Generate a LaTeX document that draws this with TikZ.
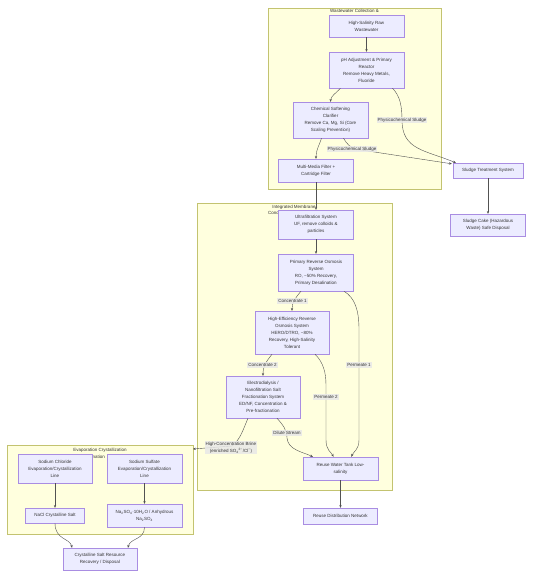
\documentclass[tikz,border=0pt]{standalone}
\usepackage{fontspec}
\setmainfont{Liberation Sans}
\usetikzlibrary{arrows.meta,calc}
\definecolor{clfill}{HTML}{FFFFDE}
\definecolor{cldraw}{HTML}{AAAA33}
\definecolor{nfill}{HTML}{ECECFF}
\definecolor{ndraw}{HTML}{9370DB}
\definecolor{ink}{HTML}{333333}
\definecolor{lblfill}{HTML}{E8E8E8}
\begin{document}
\begin{tikzpicture}[x=1pt,y=-1pt,
  fs/.style={font=\fontsize{4.5}{7}\selectfont, text=ink},
  clusterbox/.style={draw=cldraw!70, fill=clfill, line width=0.4pt},
  cltitle/.style={fs, inner sep=0pt, align=center},
  procbox/.style={fs, draw=ndraw!80, fill=nfill, line width=0.4pt, align=center, inner sep=0pt, minimum width=75pt},
  conn/.style={draw=ink!85, line width=0.4pt, -{Stealth[length=2.8pt,width=2.4pt]}},
  elabel/.style={fs, fill=lblfill, fill opacity=0.85, text opacity=1, inner sep=1pt, align=center}]
\useasboundingbox[fill=white] (0,0) rectangle (533,579);

% clusters
\path[clusterbox] (268,8) rectangle (441,189);
\node[cltitle] (t1) at (354.5,11) {Wastewater Collection \&};
\node[cltitle] (t1b) at (354.5,18) {Pretreatment};
\path[clusterbox] (197,203) rectangle (392,490);
\node[cltitle] (t2) at (294,207) {Integrated Membrane};
\node[cltitle, anchor=west] (t2b) at (268,213.5) {Concentration System};
\path[clusterbox] (7,445) rectangle (193,534);
\node[cltitle] (t3) at (100,450) {Evaporation Crystallization};
\node[cltitle, anchor=east] (t3b) at (105,457) {Coordination};

% nodes
\node[procbox, minimum height=22pt] (raw) at (366.5,26) {High-Salinity Raw\\Wastewater};
\node[procbox, minimum height=36pt] (ph) at (366.5,70) {pH Adjustment \& Primary\\Reactor\\Remove Heavy Metals,\\Fluoride};
\node[procbox, minimum height=36pt] (chem) at (330.5,120) {Chemical Softening\\Clarifier\\Remove Ca, Mg, Si (Core\\Scaling Prevention)};
\node[procbox, minimum height=23pt] (mm) at (316,170.5) {Multi-Media Filter +\\Cartridge Filter};
\node[procbox, minimum height=15pt, minimum width=70pt] (sludge) at (488,170.5) {Sludge Treatment System};
\node[procbox, minimum height=22pt] (cake) at (488,225) {Sludge Cake (Hazardous\\Waste) Safe Disposal};
\node[procbox, minimum height=29pt] (uf) at (316,224.5) {Ultrafiltration System\\UF, remove colloids \&\\particles};
\node[procbox, minimum height=37pt] (ro) at (316,272.5) {Primary Reverse Osmosis\\System\\RO, \textasciitilde50\% Recovery,\\Primary Desalination};
\node[procbox, minimum height=43pt, minimum width=74pt] (hero) at (292,332.5) {High-Efficiency Reverse\\Osmosis System\\HERO/DTRO, \textasciitilde80\%\\Recovery, High-Salinity\\Tolerant};
\node[procbox, minimum height=42pt, minimum width=74pt] (ed) at (263,397) {Electrodialysis /\\Nanofiltration Salt\\Fractionation System\\ED/NF, Concentration \&\\Pre-fractionation};
\node[procbox, minimum height=23pt] (tank) at (340.5,468.5) {Reuse Water Tank Low-\\salinity};
\node[procbox, minimum height=16pt, minimum width=74pt] (dist) at (340.5,516) {Reuse Distribution Network};
\node[procbox, minimum height=29pt, minimum width=74pt] (naclline) at (55,468.5) {Sodium Chloride\\Evaporation/Crystallization\\Line};
\node[procbox, minimum height=29pt] (na2line) at (144.5,468.5) {Sodium Sulfate\\Evaporation/Crystallization\\Line};
\node[procbox, minimum height=15pt, minimum width=59pt] (nacl) at (55,515.5) {NaCl Crystalline Salt};
\node[procbox, minimum height=23pt] (na2) at (144.5,515.5) {Na\textsubscript{2}SO\textsubscript{4}·10H\textsubscript{2}O / Anhydrous\\Na\textsubscript{2}SO\textsubscript{4}};
\node[procbox, minimum height=22pt, minimum width=74pt] (cryst) at (100,559) {Crystalline Salt Resource\\Recovery / Disposal};
\coordinate (brineend) at (193,449);

% connectors
\draw[conn] (raw) -- (ph);
\draw[conn] ($(ph.south)+(-26,0)$) .. controls (335,94) and (331,96) .. (chem.north);
\draw[conn] ($(ph.south)+(26,0)$) .. controls (400,96) and (402,106) .. (402,120) .. controls (402,150) and (425,150) .. ($(sludge.north west)+(3,0)$);
\draw[conn] ($(chem.south)+(-9,0)$) .. controls (319,146) and (316,150) .. (mm.north);
\draw[conn] ($(chem.south)+(13,0)$) .. controls (347,144) and (350,148) .. (358,149.5) -- ($(sludge.north west)+(-1,1)$);
\draw[conn] (mm) -- (uf);
\draw[conn] (sludge) -- (cake);
\draw[conn] (uf) -- (ro);
\draw[conn] ($(ro.south)+(-15,0)$) .. controls (296,297) and (292,302) .. (hero.north);
\draw[conn] ($(ro.south)+(28,0)$) .. controls (355,298) and (359,310) .. (359,330) -- (359,440) .. controls (359,450) and (353,452) .. ($(tank.north)+(11,0)$);
\draw[conn] ($(hero.south)+(-20,0)$) .. controls (266,362) and (263,366) .. (ed.north);
\draw[conn] ($(hero.south)+(23,0)$) .. controls (323,362) and (326,372) .. (326,385) -- (326,440) .. controls (326,450) and (331,452) .. ($(tank.north)+(-7,0)$);
\draw[conn] ($(ed.south)+(14,0)$) .. controls (283,425) and (287,430) .. (287,438) .. controls (288,450) and (303,452) .. ($(tank.north west)+(10,0)$);
\draw[conn] ($(ed.south)+(-15,0)$) .. controls (243,430) and (240,440) .. (232,446) -- (brineend);
\draw[conn] (tank) -- (dist);
\draw[conn] (naclline) -- (nacl);
\draw[conn] (na2line) -- (na2);
\draw[conn] (nacl.south) .. controls (55,540) and (70,538) .. ($(cryst.north)+(-28,0)$);
\draw[conn] (na2.south) .. controls (144.5,540) and (130,538) .. ($(cryst.north)+(28,0)$);

% connector labels
\node[elabel] (lb1) at (402,120) {Physicochemical Sludge};
\node[elabel] (lb2) at (352,149) {Physicochemical Sludge};
\node[elabel] (lb3) at (292.5,301) {Concentrate 1};
\node[elabel] (lb4) at (262.5,365) {Concentrate 2};
\node[elabel] (lb5) at (359,365) {Permeate 1};
\node[elabel] (lb6) at (326,397) {Permeate 2};
\node[elabel] (lb7) at (287,433) {Dilute Stream};
\node[elabel] (lb8) at (231,447.5) {High-Concentration Brine\\(enriched SO\textsubscript{4}\textsuperscript{2−}/Cl\textsuperscript{−})};
\end{tikzpicture}
\end{document}
